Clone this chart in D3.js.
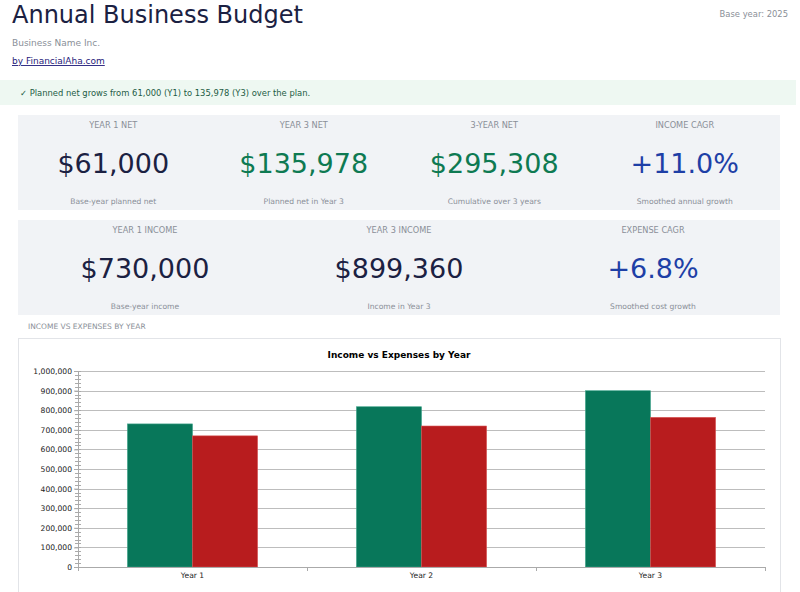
<!DOCTYPE html>
<html><head><meta charset="utf-8">
<script src="https://cdn.jsdelivr.net/npm/d3@7"></script>
<style>
html,body{margin:0;padding:0;background:#fff;}
svg{display:block;font-family:"DejaVu Sans",sans-serif;}
</style></head>
<body>
<svg id="c" width="800" height="592"></svg>
<script>
// ---- data ----
const years = ["Year 1","Year 2","Year 3"];
const income = [730000, 817600, 899360];
const expenses = [669000, 719270, 763382];
const seriesNames = ["Income","Expenses"];
const yTicks = [0,100000,200000,300000,400000,500000,600000,700000,800000,900000,1000000];

const kpiRow1 = [
  {label:"YEAR 1 NET", value:"$61,000", sub:"Base-year planned net", tone:"dark"},
  {label:"YEAR 3 NET", value:"$135,978", sub:"Planned net in Year 3", tone:"green"},
  {label:"3-YEAR NET", value:"$295,308", sub:"Cumulative over 3 years", tone:"green"},
  {label:"INCOME CAGR", value:"+11.0%", sub:"Smoothed annual growth", tone:"blue"}
];
const kpiRow2 = [
  {label:"YEAR 1 INCOME", value:"$730,000", sub:"Base-year income", tone:"dark"},
  {label:"YEAR 3 INCOME", value:"$899,360", sub:"Income in Year 3", tone:"dark"},
  {label:"EXPENSE CAGR", value:"+6.8%", sub:"Smoothed cost growth", tone:"blue"}
];

const toneColor = {dark:"#1b2142", green:"#0e7a52", blue:"#1e3fa6"};
const svg = d3.select("#c");

// header
svg.append("text").attr("x",12).attr("y",23).attr("font-size",24).attr("fill","#1b2142").text("Annual Business Budget");
svg.append("text").attr("x",12).attr("y",46).attr("font-size",9).attr("fill","#8a8f98").text("Business Name Inc.");
svg.append("text").attr("x",12).attr("y",64).attr("font-size",9).attr("fill","#1f1a7a")
  .attr("text-decoration","underline").text("by FinancialAha.com");
svg.append("text").attr("x",788).attr("y",17).attr("text-anchor","end").attr("font-size",8.4).attr("fill","#8a8f98").text("Base year: 2025");

// banner
svg.append("rect").attr("x",0).attr("y",80).attr("width",796).attr("height",25).attr("fill","#eef8f2");
svg.append("text").attr("x",20).attr("y",95.5).attr("font-size",8.4).attr("fill","#1d5c45")
  .text("\u2713  Planned net grows from 61,000 (Y1) to 135,978 (Y3) over the plan.");

function kpiRow(items, y0, h){
  const x0 = 18, w = 762;
  svg.append("rect").attr("x",x0).attr("y",y0).attr("width",w).attr("height",h).attr("fill","#f1f3f6");
  const col = d3.scaleBand().domain(d3.range(items.length)).range([x0, x0+w]);
  const g = svg.selectAll(null).data(items).enter().append("g")
    .attr("transform",(d,i)=>`translate(${col(i)+col.bandwidth()/2},${y0})`);
  g.append("text").attr("y",13).attr("text-anchor","middle").attr("font-size",8.2).attr("fill","#8a8f98").text(d=>d.label);
  g.append("text").attr("y",58).attr("text-anchor","middle").attr("font-size",27).attr("fill",d=>toneColor[d.tone]).text(d=>d.value);
  g.append("text").attr("y",89).attr("text-anchor","middle").attr("font-size",7.6).attr("fill","#8a8f98").text(d=>d.sub);
}
kpiRow(kpiRow1, 115, 95);
kpiRow(kpiRow2, 220, 95);

svg.append("text").attr("x",28).attr("y",329).attr("font-size",7.5).attr("fill","#8a8f98").text("INCOME VS EXPENSES BY YEAR");

// chart box
svg.append("rect").attr("x",18.5).attr("y",338.5).attr("width",762).attr("height",260).attr("fill","#fff").attr("stroke","#e2e4e8");
svg.append("text").attr("x",399).attr("y",358).attr("text-anchor","middle").attr("font-size",9).attr("font-weight","bold").attr("fill","#000")
  .text("Income vs Expenses by Year");

const m = {l:78, r:765, t:371, b:567};
const x = d3.scaleBand().domain(years).range([m.l, m.r]).paddingInner(0).paddingOuter(0);
const xs = d3.scaleBand().domain(seriesNames).range([0, x.bandwidth()]).paddingInner(0).paddingOuter(0.76);
const y = d3.scaleLinear().domain([0,1000000]).range([m.b, m.t]);

// grid
svg.append("g").selectAll("line").data(yTicks).enter().append("line")
  .attr("x1",m.l).attr("x2",m.r).attr("y1",d=>Math.round(y(d))+0.5).attr("y2",d=>Math.round(y(d))+0.5)
  .attr("stroke","#bdbdbd").attr("stroke-width",1);

// bars
const data = years.map((yr,i)=>({yr, vals:[income[i], expenses[i]]}));
const colors = ["#08775a","#b81c1e"];
const strokes = ["#3fa48a","#d65050"];
const gb = svg.append("g").selectAll("g").data(data).enter().append("g")
  .attr("transform",d=>`translate(${x(d.yr)},0)`);
gb.selectAll("rect").data(d=>d.vals.map((v,j)=>({v,j}))).enter().append("rect")
  .attr("x",d=>xs(seriesNames[d.j])).attr("width",xs.bandwidth())
  .attr("y",d=>y(d.v)).attr("height",d=>y(0)-y(d.v))
  .attr("fill",d=>colors[d.j]).attr("stroke",d=>strokes[d.j]).attr("stroke-width",0.6);

// y axis
const ya = svg.append("g").attr("transform",`translate(${m.l},0)`)
  .call(d3.axisLeft(y).tickValues(yTicks).tickFormat(d3.format(",")).tickSize(4).tickPadding(2));
const minor = d3.range(0,1000001,20000);
ya.selectAll(".minor").data(minor).enter().append("line").attr("class","minor")
  .attr("x1",-3).attr("x2",3).attr("y1",d=>Math.round(y(d))+0.5).attr("y2",d=>Math.round(y(d))+0.5)
  .attr("stroke","#aaa");
ya.select(".domain").attr("stroke","#aaa");
ya.selectAll(".tick line").attr("stroke","#aaa");
ya.selectAll(".tick text").attr("font-size",7.6).attr("fill","#222").attr("font-family","DejaVu Sans");

// x axis
const xa = svg.append("g").attr("transform",`translate(0,${m.b})`)
  .call(d3.axisBottom(x).tickSize(0).tickPadding(6));
xa.select(".domain").attr("stroke","#aaa");
xa.selectAll(".tick text").attr("font-size",7.6).attr("fill","#222").attr("font-family","DejaVu Sans");
const bounds = years.map(d=>x(d)).concat([m.r]);
xa.selectAll(".bnd").data(bounds).enter().append("line").attr("class","bnd")
  .attr("x1",d=>Math.round(d)+0.5).attr("x2",d=>Math.round(d)+0.5).attr("y1",0).attr("y2",4).attr("stroke","#aaa");
</script>
</body></html>
